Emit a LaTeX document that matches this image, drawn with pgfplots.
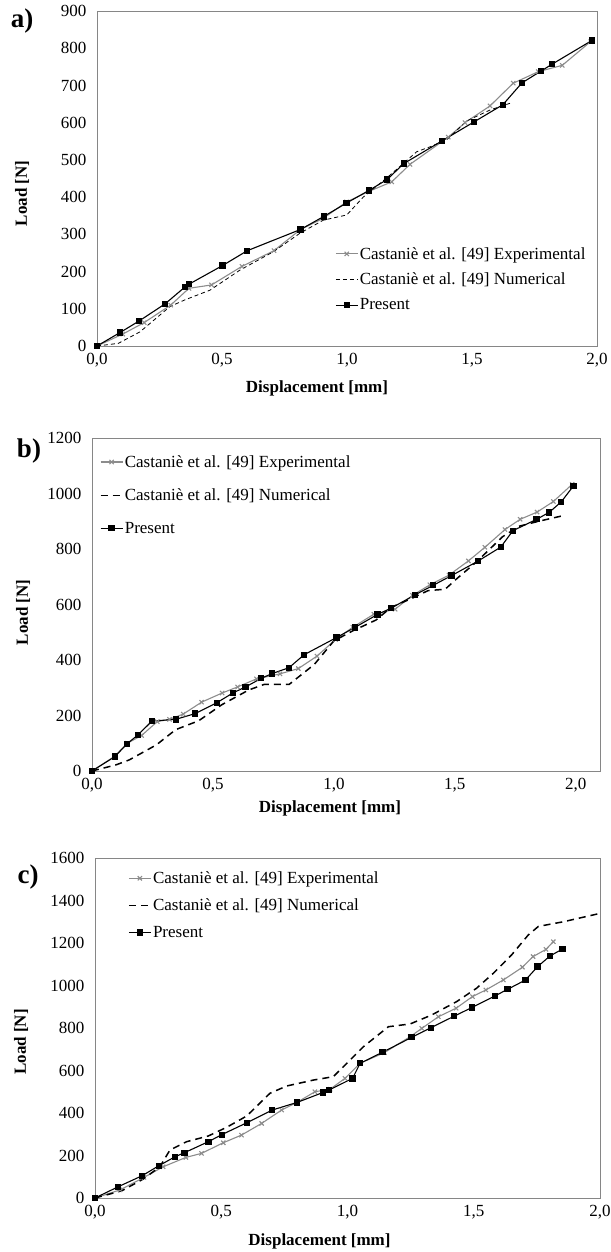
\documentclass[border=0pt]{standalone}
\usepackage{fontspec}
\setmainfont{Liberation Serif}
\usepackage{pgfplots}
\pgfplotsset{compat=1.18}

\definecolor{expgray}{RGB}{140,140,140}
\definecolor{framegray}{RGB}{134,134,134}

\pgfplotsset{
  loadplot/.style={
    scale only axis,
    anchor=south west,
    xmin=0, ymin=0,
    xtick distance=0.5,
    clip=false,
    axis line style={framegray, line width=0.9pt},
    major tick length=0pt,
    /pgf/number format/assume math mode=true,
    tick label style={font=\fontsize{17}{20}\selectfont},
    x tick label style={yshift=-4pt, /pgf/number format/.cd, fixed, fixed zerofill, precision=1, use comma},
    y tick label style={xshift=-7pt, /pgf/number format/.cd, 1000 sep={}},
    xlabel={Displacement [mm]},
    ylabel={Load [N]},
    label style={font=\fontsize{17}{20}\selectfont\bfseries},
    legend cell align=left,
    legend style={draw=none, fill=none, inner sep=0pt, font=\fontsize{17}{20}\selectfont,
      anchor=north west, nodes={inner sep=1.5pt}},
    legend image code/.code={
      \draw[mark repeat=2, mark phase=2, #1] plot coordinates {(0pt,0pt) (11pt,0pt) (22pt,0pt)};},
  },
  experimental/.style={expgray, line width=1.1pt, mark=x, mark size=3pt},
  present/.style={black, line width=1.1pt, mark=square*, mark size=2.6pt},
}

\begin{document}
\begin{tikzpicture}
\useasboundingbox (0pt,0pt) rectangle (610pt,1252pt);

% ---------- a) ----------
\begin{axis}[loadplot,
  at={(97pt,906pt)}, width=500pt, height=335pt,
  xmax=2, ymax=900, ytick distance=100,
  x label style={at={([xshift=-30pt,yshift=-42pt]axis description cs:0.5,0)}, anchor=center},
  y label style={at={([xshift=-75pt,yshift=-15pt]axis description cs:0,0.5)}, anchor=center},
  legend style={at={(0.476,0.30)}, row sep=9.5pt}]
\addplot[experimental] table {
0     0
0.103 32
0.189 63
0.295 110
0.368 155
0.458 164
0.580 214
0.708 256
0.814 313
0.905 343
0.998 387
1.090 416
1.179 441
1.252 488
1.405 561
1.472 600
1.572 645
1.665 706
1.765 737
1.861 754
1.975 818
};
\addplot[black, line width=0.8pt, dash pattern=on 4pt off 3pt] table {
0     0
0.085 7
0.172 38
0.292 106
0.352 124
0.452 150
0.572 204
0.705 253
0.812 303
0.905 338
0.999 352
1.065 400
1.172 459
1.279 522
1.332 535
1.400 555
1.480 605
1.572 634
1.652 652
};
\addplot[present] table {
0     0
0.092 36
0.168 67
0.272 113
0.351 158
0.368 166
0.502 216
0.601 256
0.814 313
0.907 348
0.998 384
1.088 418
1.160 447
1.227 490
1.380 551
1.508 602
1.623 648
1.700 707
1.777 739
1.820 757
1.980 821
};
\legend{Castaniè et al. [49] Experimental, Castaniè et al. [49] Numerical, Present}
\end{axis}
\node[font=\fontsize{27}{30}\selectfont\bfseries] at (22pt,1231pt) {a)};

% ---------- b) ----------
\begin{axis}[loadplot,
  at={(92pt,481pt)}, width=508pt, height=333pt,
  xmax=2.1, ymax=1200, ytick distance=200,
  x label style={at={([xshift=-16pt,yshift=-37pt]axis description cs:0.5,0)}, anchor=center},
  y label style={at={([xshift=-69pt,yshift=-8pt]axis description cs:0,0.5)}, anchor=center},
  legend style={at={(0.015,0.953)}, row sep=17pt}]
\addplot[experimental] table {
0     0
0.092 52
0.146 100
0.205 128
0.270 178
0.320 186
0.377 205
0.453 248
0.538 281
0.602 303
0.680 332
0.777 350
0.853 369
0.930 414
1.007 474
1.078 518
1.165 565
1.253 583
1.325 633
1.397 671
1.476 706
1.556 757
1.624 806
1.707 870
1.770 907
1.840 933
1.907 971
1.985 1033
};
\addplot[black, line width=1.5pt, dash pattern=on 7pt off 5pt] table {
0     0
0.099 22
0.154 40
0.266 94
0.346 149
0.441 181
0.537 239
0.648 292
0.712 312
0.815 312
0.919 384
1.000 469
1.078 505
1.174 544
1.237 590
1.317 620
1.389 650
1.460 655
1.504 690
1.590 754
1.697 844
1.765 882
1.847 900
1.957 922
};
\addplot[present] table {
0     0
0.095 52
0.145 98
0.190 130
0.248 180
0.346 186
0.427 207
0.516 246
0.584 282
0.635 303
0.700 334
0.744 351
0.814 372
0.877 419
1.011 481
1.086 517
1.180 564
1.237 587
1.336 635
1.410 669
1.486 704
1.595 756
1.690 807
1.740 866
1.838 907
1.890 932
1.940 970
1.990 1027
};
\legend{Castaniè et al. [49] Experimental, Castaniè et al. [49] Numerical, Present}
\end{axis}
\node[font=\fontsize{27}{30}\selectfont\bfseries] at (29pt,801pt) {b)};

% ---------- c) ----------
\begin{axis}[loadplot,
  at={(95pt,54pt)}, width=505pt, height=340pt,
  xmax=2, ymax=1600, ytick distance=200,
  x label style={at={([xshift=-28pt,yshift=-43pt]axis description cs:0.5,0)}, anchor=center},
  y label style={at={([xshift=-74pt,yshift=-14pt]axis description cs:0,0.5)}, anchor=center},
  legend style={at={(0.065,0.965)}, row sep=11pt}]
\addplot[experimental] table {
0     0
0.099 38
0.194 97
0.270 147
0.360 191
0.422 210
0.508 260
0.580 296
0.660 351
0.739 414
0.800 450
0.871 500
0.931 512
0.990 563
1.050 634
1.146 684
1.248 759
1.294 798
1.360 853
1.430 893
1.495 948
1.548 979
1.617 1026
1.693 1086
1.735 1136
1.786 1170
1.815 1206
};
\addplot[black, line width=1.5pt, dash pattern=on 7pt off 5pt] table {
0     0
0.106 34
0.191 89
0.257 147
0.297 226
0.363 265
0.449 292
0.522 333
0.601 386
0.693 493
0.759 527
0.865 555
0.944 571
1.010 649
1.063 712
1.162 806
1.248 819
1.333 861
1.432 924
1.511 987
1.578 1058
1.650 1144
1.716 1238
1.756 1278
1.855 1300
1.995 1338
};
\addplot[present] table {
0     0
0.092 53
0.187 105
0.253 152
0.317 194
0.354 213
0.449 265
0.502 298
0.601 354
0.702 414
0.801 450
0.904 497
0.927 508
1.020 563
1.050 634
1.139 686
1.254 756
1.330 801
1.423 856
1.492 896
1.584 951
1.634 982
1.705 1026
1.753 1089
1.802 1139
1.852 1172
};
\legend{Castaniè et al. [49] Experimental, Castaniè et al. [49] Numerical, Present}
\end{axis}
\node[font=\fontsize{27}{30}\selectfont\bfseries] at (28pt,375pt) {c)};
\end{tikzpicture}
\end{document}
